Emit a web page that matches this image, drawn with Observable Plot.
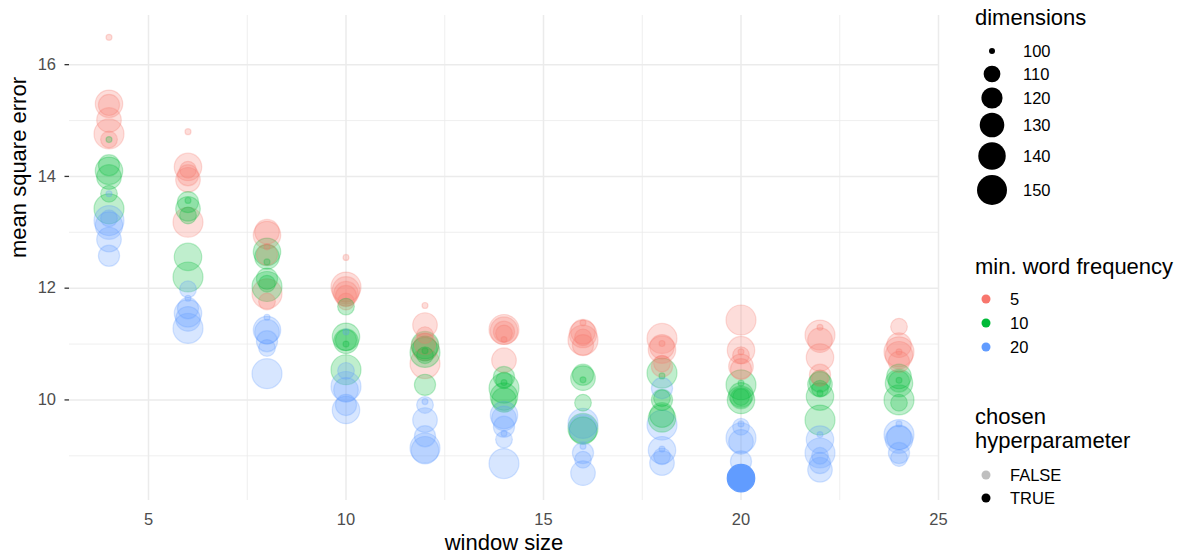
<!DOCTYPE html>
<html><head><meta charset="utf-8">
<script src="https://cdn.jsdelivr.net/npm/d3@7"></script>
<script src="https://cdn.jsdelivr.net/npm/@observablehq/plot@0.6"></script>
<style>
body{margin:0;background:#fff;}
#wrap{position:relative;width:1185px;height:559px;}
</style></head><body><div id="wrap"></div>
<script>
const windowSizes = [4, 6, 8, 10, 12, 14, 16, 18, 20, 22, 24];
const dimensions = [100, 110, 120, 130, 140, 150];
const frequencies = [5, 10, 20];
const freqColors = ["#F8766D", "#00BA38", "#619CFF"];
// rows: window sizes; columns: dimensions 100..150
const mseFreq5 = [
  [16.49, 14.66, 15.28, 15.01, 15.30, 14.76],
  [14.80, 14.12, 14.02, 13.94, 14.17, 13.18],
  [12.74, 11.76, 12.60, 13.01, 12.95, 11.90],
  [12.55, 11.76, 11.86, 11.90, 11.96, 12.02],
  [11.69, 11.16, 11.00, 11.34, 10.95, 10.65],
  [11.08, 11.19, 11.22, 10.71, 11.24, 11.26],
  [11.38, 11.12, 10.98, 11.22, 11.18, 11.07],
  [11.01, 10.65, 10.60, 10.95, 10.90, 11.10],
  [10.86, 10.80, 10.55, 10.60, 10.89, 11.43],
  [11.30, 10.39, 10.45, 11.07, 10.76, 11.16],
  [10.86, 11.31, 10.68, 10.98, 10.80, 10.86]
];
const mseFreq10 = [
  [14.66, 13.69, 14.20, 13.99, 14.10, 13.42],
  [13.57, 13.30, 13.54, 13.42, 12.56, 12.20],
  [12.47, 12.08, 12.17, 12.56, 12.65, 12.03],
  [11.00, 11.67, 11.07, 11.05, 11.13, 10.54],
  [10.88, 10.80, 10.27, 10.92, 10.98, 10.85],
  [10.31, 10.35, 10.41, 10.00, 10.06, 10.21],
  [10.36, 9.95, 10.45, 10.39, 9.45, 9.49],
  [10.43, 10.03, 10.00, 9.73, 9.67, 10.48],
  [10.30, 10.05, 10.03, 10.09, 10.00, 10.27],
  [10.12, 10.20, 10.33, 10.28, 10.06, 9.64],
  [10.35, 9.95, 10.33, 10.42, 10.30, 10.00]
];
const mseFreq20 = [
  [13.69, 13.25, 12.58, 12.87, 13.12, 13.21],
  [11.82, 11.98, 11.64, 11.45, 11.55, 11.28],
  [11.48, 10.93, 11.05, 11.22, 11.25, 10.47],
  [11.22, 10.52, 9.91, 10.18, 9.82, 10.24],
  [9.97, 9.91, 9.35, 9.64, 9.10, 9.14],
  [9.40, 9.29, 9.52, 9.67, 9.73, 8.86],
  [9.17, 8.93, 9.05, 8.69, 9.49, 9.58],
  [9.12, 8.99, 10.21, 8.87, 9.10, 9.55],
  [9.57, 9.52, 8.90, 9.25, 8.60, 9.32],
  [9.38, 9.00, 8.87, 8.75, 9.29, 9.05],
  [9.57, 8.96, 9.05, 9.33, 9.29, 9.38]
];
const chosenWindow = 20, chosenFreq = 20, chosenDim = 140;
const xMajor = [5, 10, 15, 20, 25];
const xMinor = [7.5, 12.5, 17.5, 22.5];
const yMajor = [10, 12, 14, 16];
const yMinor = [9, 11, 13, 15];
const chosenLabels = ["FALSE", "TRUE"];

const rows = [];
[mseFreq5, mseFreq10, mseFreq20].forEach((tbl, fi) =>
  tbl.forEach((vals, wi) => vals.forEach((v, di) => rows.push({
    window: windowSizes[wi], freq: frequencies[fi], dim: dimensions[di], mse: v,
    chosen: windowSizes[wi] === chosenWindow && frequencies[fi] === chosenFreq && dimensions[di] === chosenDim
  }))));

const FONT = "'Liberation Sans', Arial, Helvetica, sans-serif";
const gridColor = "#ebebeb";

const plot = Plot.plot({
  width: 1185, height: 559,
  marginLeft: 69, marginRight: 247, marginTop: 15, marginBottom: 59,
  style: {fontFamily: FONT, background: "#fff"},
  x: {domain: [3, 25]},
  y: {domain: [8.2, 16.88]},
  r: {type: "sqrt", domain: [0, 50], range: [3, 15]},
  color: {domain: frequencies, range: freqColors},
  marks: [
    Plot.gridX(xMinor, {stroke: gridColor, strokeOpacity: 1, strokeWidth: 0.8}),
    Plot.gridY(yMinor, {stroke: gridColor, strokeOpacity: 1, strokeWidth: 0.8}),
    Plot.gridX(xMajor, {stroke: gridColor, strokeOpacity: 1, strokeWidth: 1.5}),
    Plot.gridY(yMajor, {stroke: gridColor, strokeOpacity: 1, strokeWidth: 1.5}),
    Plot.axisX(xMajor, {tickSize: 0, tickPadding: 12.5, fontSize: 16.5, fill: "#4d4d4d", label: null, fontFamily: FONT, tickFormat: d => String(d)}),
    Plot.axisY(yMajor, {tickSize: 4.5, tickPadding: 9, fontSize: 16.5, fill: "#4d4d4d", stroke: "#333333", strokeWidth: 1.3, label: null, fontFamily: FONT, tickFormat: d => String(d)}),
    Plot.dot(rows.filter(d => !d.chosen), {
      x: "window", y: "mse", r: d => d.dim - 100, fill: "freq", stroke: "freq",
      fillOpacity: 0.25, strokeOpacity: 0.25, strokeWidth: 1.2
    }),
    Plot.dot(rows.filter(d => d.chosen), {
      x: "window", y: "mse", r: d => d.dim - 100, fill: "freq", stroke: "freq",
      fillOpacity: 1, strokeOpacity: 1, strokeWidth: 1.2
    }),
    Plot.text(["window size"], {frameAnchor: "bottom", dy: 49, fontSize: 22, fill: "#000", fontFamily: FONT}),
    Plot.text(["mean square error"], {frameAnchor: "left", dx: -51, rotate: -90, fontSize: 22, fill: "#000", fontFamily: FONT})
  ]
});

document.getElementById("wrap").appendChild(plot);

// Legend (drawn into the same SVG)
const rScale = plot.scale("r");
const svg = d3.select(plot);
const lg = svg.append("g").attr("font-family", FONT).attr("text-anchor", "start");
const title = (txt, x, y) => lg.append("text").attr("x", x).attr("y", y).attr("font-size", 22).attr("fill", "#000").text(txt);
const label = (txt, x, y) => lg.append("text").attr("x", x).attr("y", y).attr("dy", "0.35em").attr("font-size", 16.5).attr("fill", "#000").text(txt);

title("dimensions", 975, 25);
const sizeY = [51, 74, 98, 125, 156, 190];
dimensions.forEach((d, i) => {
  lg.append("circle").attr("cx", 992).attr("cy", sizeY[i]).attr("r", rScale.apply(d - 100)).attr("fill", "#000");
  label(String(d), 1023, sizeY[i]);
});

title("min. word frequency", 975, 274);
const freqY = [299, 323, 347];
frequencies.forEach((f, i) => {
  lg.append("circle").attr("cx", 986).attr("cy", freqY[i]).attr("r", 4.5).attr("fill", freqColors[i]);
  label(String(f), 1010, freqY[i]);
});

title("chosen", 975, 424);
title("hyperparameter", 975, 448);
const chY = [475, 498];
chosenLabels.forEach((c, i) => {
  lg.append("circle").attr("cx", 986).attr("cy", chY[i]).attr("r", 4.5).attr("fill", "#000").attr("fill-opacity", i ? 1 : 0.25);
  label(c, 1010, chY[i]);
});
</script></body></html>
